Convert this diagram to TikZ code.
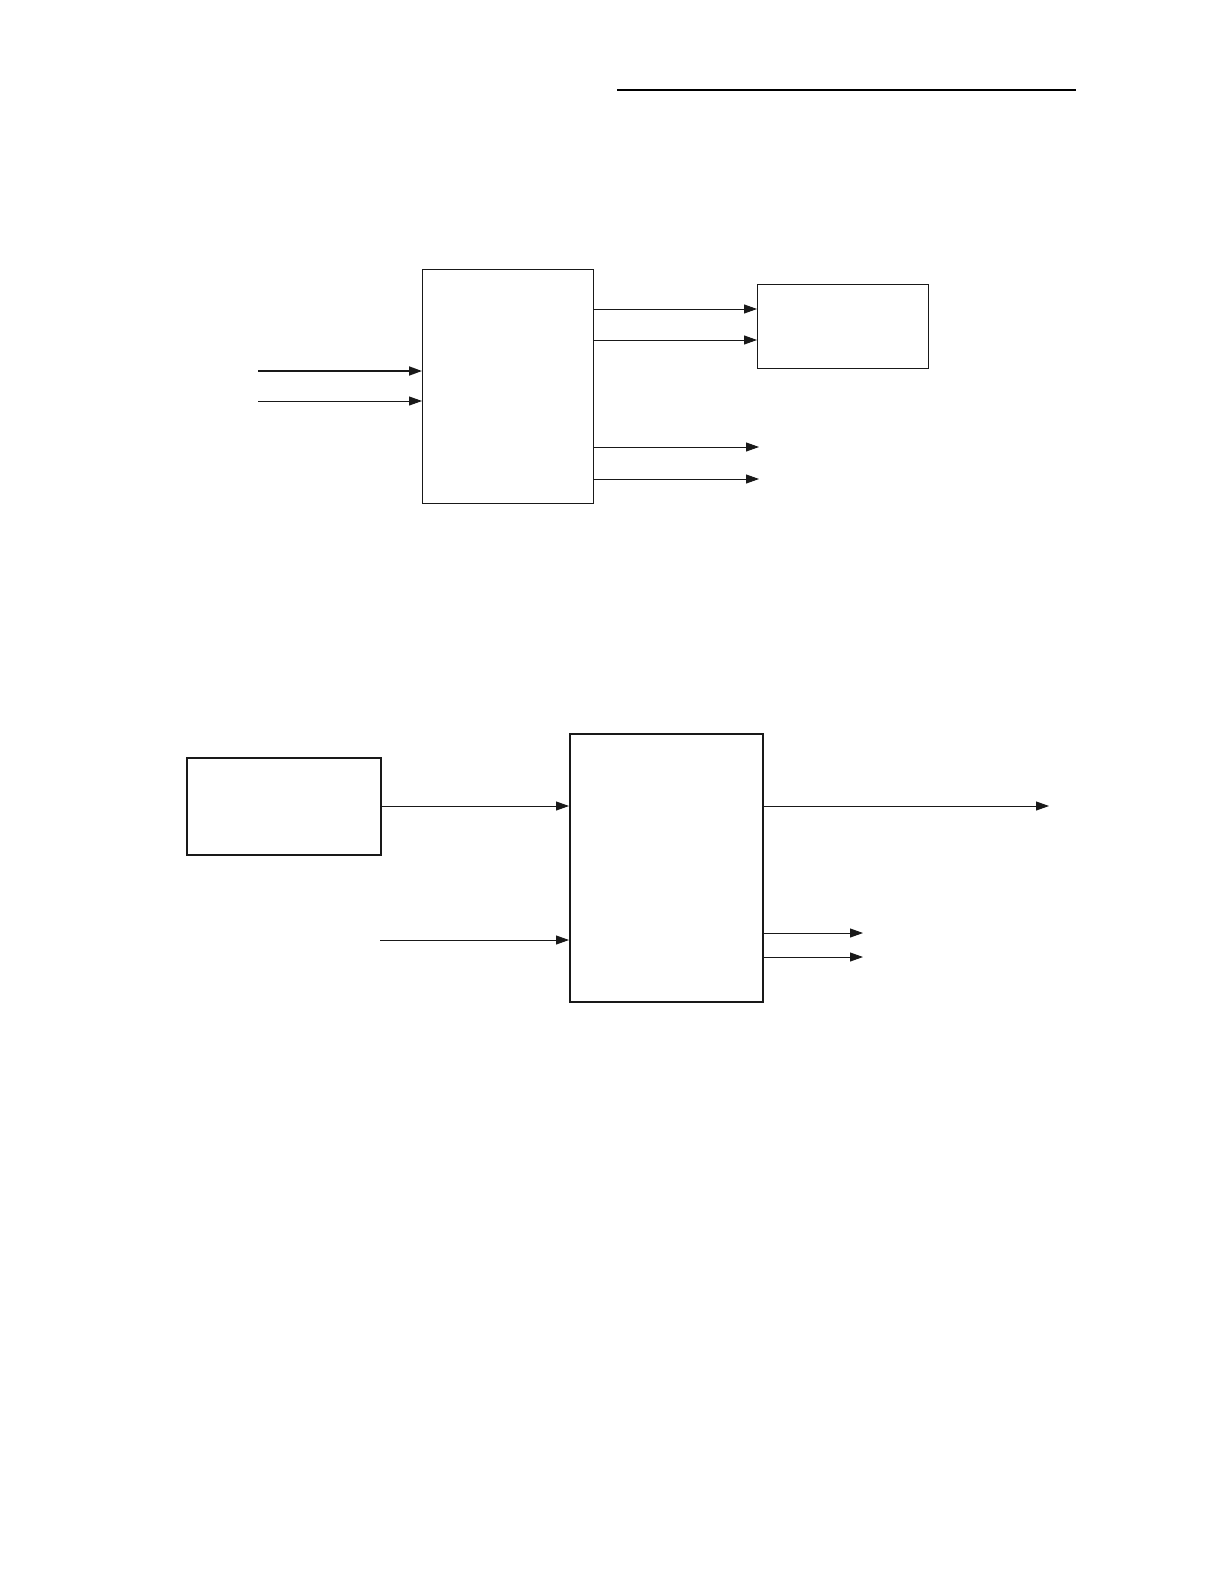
\documentclass[tikz,border=0pt]{standalone}
\usetikzlibrary{arrows.meta}
\begin{document}
\begin{tikzpicture}[x=1pt,y=-1pt,
  box/.style={draw=black!90,line width=1.4pt,inner sep=0pt,anchor=north west},
  arr/.style={draw=black!90,line width=0.9pt,-{Triangle[length=13pt,width=9pt]}},
  thickarr/.style={arr,line width=1.8pt}]
\useasboundingbox (0,0) rectangle (1224,1584);
\draw[line width=1.2pt] (617,90) coordinate (tl) -- (1076,90) coordinate (tr);
% upper section
\node[box,minimum width=171pt,minimum height=234pt] (A) at (422,269) {};
\node[box,line width=1.1pt,minimum width=171pt,minimum height=84pt] (B) at (757,284) {};
\coordinate (i1) at (258,371);
\coordinate (i2) at (258,401);
\draw[thickarr] (i1) -- (A.west |- i1);
\draw[arr] (i2) -- (A.west |- i2);
\coordinate (y1) at (0,309);
\coordinate (y2) at (0,340);
\draw[arr] (A.east |- y1) -- (B.west |- y1);
\draw[arr] (A.east |- y2) -- (B.west |- y2);
\coordinate (o1) at (759,447);
\coordinate (o2) at (759,479);
\draw[arr] (A.east |- o1) -- (o1);
\draw[arr] (A.east |- o2) -- (o2);
% lower section
\node[box,line width=1.7pt,minimum width=194pt,minimum height=97pt] (C) at (186,757) {};
\node[box,line width=1.5pt,minimum width=193pt,minimum height=268pt] (D) at (569,733) {};
\coordinate (y3) at (0,806);
\draw[arr] (C.east |- y3) -- (D.west |- y3);
\coordinate (i3) at (380,940);
\draw[arr] (i3) -- (D.west |- i3);
\coordinate (o3) at (1049,806);
\draw[arr] (D.east |- o3) -- (o3);
\coordinate (o4) at (863,933);
\coordinate (o5) at (863,957);
\draw[arr] (D.east |- o4) -- (o4);
\draw[arr] (D.east |- o5) -- (o5);
\end{tikzpicture}
\end{document}
